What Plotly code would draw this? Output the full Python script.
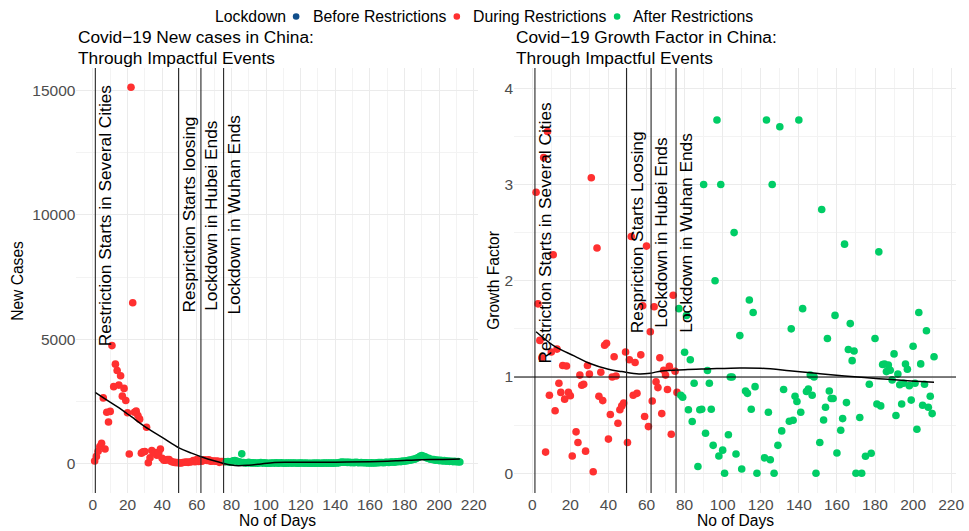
import plotly.graph_objects as go

# ---------------- data ----------------
RED = "#FF3030"     # During Restrictions
GREEN = "#00CD66"   # After Restrictions
BLUE = "#104E8B"    # Before Restrictions

# New cases, days 1..76 (During Restrictions)
new_cases_during = [95, 277, 486, 669, 802, 2632, 578, 2054, 1661, 2089,
                    4739, 3086, 3991, 3733, 3147, 3523, 2704, 3015, 2525, 2032,
                    373, 15136, 6463, 2055, 2100, 1921, 1777, 408, 458, 473,
                    1451, 21, 219, 513, 412, 434, 328, 428, 576, 204,
                    125, 125, 151, 153, 80, 53, 37, 27, 34, 11,
                    13, 32, 40, 46, 38, 52, 64, 110, 65, 150,
                    74, 108, 81, 138, 131, 117, 141, 87, 93, 95,
                    83, 92, 37, 69, 73, 61]
days_during = list(range(1, 1 + len(new_cases_during)))

# New cases, days 77..212 (After Restrictions)
new_cases_after = [62, 75, 48, 58, 96, 110, 92, 60, 52, 380, 27, 18, 12, 36, 15,
                   16, 15, 10, 6, 12, 30, 8, 20, 6, 2, 4, 9, 9, 8, 20,
                   5, 14, 20, 3, 6, 8, 7, 12, 8, 14, 12, 1, 5, 9, 14,
                   3, 10, 4, 1, 3, 2, 6, 2, 7, 3, 3, 6, 9, 5, 8,
                   8, 6, 5, 14, 10, 18, 38, 45, 40, 44, 36, 38, 28, 30, 26,
                   40, 28, 24, 30, 22, 20, 18, 14, 12, 16, 10, 14, 22, 25, 30,
                   30, 24, 38, 41, 33, 47, 52, 44, 58, 61, 73, 69, 88, 84, 102,
                   108, 126, 135, 158, 166, 205, 232, 286, 312, 281, 258, 214, 196, 163, 152,
                   146, 124, 131, 109, 118, 97, 106, 88, 94, 79, 85, 68, 77, 61, 66, 52]
days_after = list(range(77, 77 + len(new_cases_after)))

# Growth factor (During Restrictions)
gf_during_days = [2, 3, 4, 5, 6, 7, 8, 9, 10, 11, 12, 13, 14, 15, 16, 17, 18, 19, 20, 21,
                  23, 24, 25, 26, 27, 28, 29, 30, 31, 32, 34, 35, 36, 37, 38, 39, 40,
                  41, 42, 43, 44, 45, 46, 47, 48, 49, 50, 51, 52, 53, 54, 55,
                  57, 58, 59, 60, 61, 62, 63, 64, 65, 66, 67, 68, 69, 70,
                  71, 72, 73, 74, 75, 76]
gf_during = [2.92, 1.76, 1.38, 1.20, 3.28, 0.22, 3.55, 0.81, 1.26, 2.27, 0.65, 1.29, 0.935, 0.84,
             1.12, 0.77, 1.115, 0.84, 0.805, 0.18,
             0.43, 0.32, 1.02, 0.915, 0.925, 0.23, 1.12, 1.03, 3.07, 0.015, 2.34, 0.80, 1.05,
             0.755, 1.33, 1.35, 0.355,
             0.61, 1.0, 1.21, 1.01, 0.52, 0.66, 0.70, 0.73, 1.26, 0.32, 1.18, 2.46, 0.81, 1.15, 0.83,
             1.23, 1.74, 0.59, 2.36, 0.485, 1.47, 0.75, 1.73, 0.95, 0.89, 1.2, 0.62, 1.07, 1.02,
             0.87, 1.11, 0.405, 1.85, 1.06, 0.84]

# Growth factor (After Restrictions)
gf_after_days = [77, 78, 79, 80, 81, 82, 83, 84, 85, 87, 88, 89, 90, 91, 92, 93, 94, 95, 96, 97,
                 98, 99, 100, 101, 103, 104, 105, 106, 107, 109, 110, 112, 113, 114, 115, 116,
                 117, 118, 122, 123, 124, 125, 126, 127, 129, 130, 131, 132, 135, 136, 137,
                 138, 139, 140, 141, 142, 144, 145, 146, 147, 148, 149, 151, 152, 153, 154,
                 155, 156, 157, 158, 159, 160, 162, 163, 164, 165, 166, 167, 168, 169, 170,
                 172, 173, 175, 177, 178, 180, 181, 182, 183, 184, 185, 186, 187, 188, 189,
                 190, 191, 192, 193, 194, 195, 196, 197, 198, 199, 200, 201, 202, 203, 204,
                 205, 206, 207, 208, 209, 210, 211]
gf_after = [1.71, 0.81, 0.79, 1.257, 1.64, 0.66, 1.18, 0.537, 0.935, 0.07, 0.66, 0.665, 3.0, 0.415,
            1.067, 0.935, 0.665, 0.29, 2.0, 3.67,
            0.18, 3.0, 0.24, 0.0, 0.40, 1.0, 1.0, 2.50, 0.20, 1.43, 0.045, 0.855, 0.83, 1.80, 0.665,
            1.67,
            0.90, 0.0, 0.16, 3.67, 0.634, 0.14, 3.0, 0.0, 0.29, 3.60, 0.44, 0.87, 0.54, 1.50, 0.55,
            0.80, 0.745, 3.67, 0.634, 1.71, 0.85, 0.876, 1.02, 0.81, 1.0, 0.0, 0.32, 2.74, 0.554,
            0.686,
            1.40, 0.855, 0.776, 0.776, 1.64, 0.21, 0.447, 0.568, 2.38, 0.734, 1.285, 1.555, 1.17,
            1.27, 0.0,
            0.58, 0.0, 0.177, 0.925, 0.208, 1.40, 0.72, 2.30, 0.70, 1.13, 1.135, 1.056, 1.125,
            1.07, 0.97,
            1.24, 0.60, 1.03, 0.92, 0.72, 0.935, 1.135, 1.08, 0.91, 0.76, 1.32, 0.935, 0.457, 1.67,
            1.136,
            0.706, 0.925, 1.48, 0.686, 0.80, 0.62, 1.21]

# Smoothed trend lines
nc_smooth_days = [1.3, 7, 14, 22, 30, 40, 50, 57, 63, 70, 75, 80, 84, 90, 96, 105, 120, 140,
                  160, 175, 190, 200, 212]
nc_smooth_vals = [2858, 2595, 2280, 1885, 1480, 1045, 610, 410, 255, 100, 5, -70, -97, -75, -35,
                  35, 40, 42, 65, 100, 145, 150, 170]
gf_smooth_days = [2, 12, 22, 30, 40, 47, 56, 62, 68, 80, 92, 109, 120, 135, 149, 164, 182, 199,
                  211]
gf_smooth_vals = [1.47, 1.315, 1.22, 1.143, 1.08, 1.056, 1.032, 1.04, 1.063, 1.076, 1.084, 1.094,
                  1.091, 1.066, 1.039, 1.011, 0.983, 0.959, 0.945]

# Events
event_days = [1.4, 49.5, 62.4, 75.5]
event_labels_left = ["Restriction Starts in Several Cities", "Respriction Starts loosing",
                     "Lockdown in Hubei Ends", "Lockdown in Wuhan Ends"]
event_labels_right = ["Restriction Starts in Several Cities", "Respriction Starts Loosing",
                      "Lockdown in Hubei Ends", "Lockdown in Wuhan Ends"]
event_y_left = 10000
event_y_right = 2.5

legend_title = "Lockdown"
legend_labels = ["Before Restrictions", "During Restrictions", "After Restrictions"]
legend_colors = [BLUE, RED, GREEN]

# ---------------- layout helpers ----------------
W, H = 969, 531
FONT = "Liberation Sans, Arial, Helvetica, sans-serif"


def px(x):
    return x / W


def py(y):
    return 1 - y / H


L_DOM = [px(77.1), px(482.6)]
R_DOM = [px(518.9), px(965.0)]
Y_DOM = [py(493), py(68)]

fig = go.Figure()

MS = 7.6
fig.add_trace(go.Scatter(x=days_during, y=new_cases_during, mode="markers",
                         marker=dict(color=RED, size=MS), xaxis="x", yaxis="y", showlegend=False))
fig.add_trace(go.Scatter(x=days_after, y=new_cases_after, mode="markers",
                         marker=dict(color=GREEN, size=MS), xaxis="x", yaxis="y", showlegend=False))
fig.add_trace(go.Scatter(x=nc_smooth_days, y=nc_smooth_vals, mode="lines",
                         line=dict(color="black", width=1.5, shape="spline", smoothing=1.0),
                         xaxis="x", yaxis="y", showlegend=False))

fig.add_trace(go.Scatter(x=gf_during_days, y=gf_during, mode="markers",
                         marker=dict(color=RED, size=MS), xaxis="x2", yaxis="y2", showlegend=False))
fig.add_trace(go.Scatter(x=gf_after_days, y=gf_after, mode="markers",
                         marker=dict(color=GREEN, size=MS), xaxis="x2", yaxis="y2", showlegend=False))
fig.add_trace(go.Scatter(x=gf_smooth_days, y=gf_smooth_vals, mode="lines",
                         line=dict(color="black", width=1.5, shape="spline", smoothing=1.0),
                         xaxis="x2", yaxis="y2", showlegend=False))

GRID = "#EBEBEB"
MINOR = "#F3F3F3"
TICKFONT = dict(family=FONT, size=15.5, color="#4D4D4D")


def xaxis_cfg(domain, anchor):
    return dict(domain=domain, anchor=anchor, range=[-9.55, 222.55], tick0=0, dtick=20,
                showgrid=True, gridcolor=GRID, gridwidth=1.1, zeroline=False, showline=False,
                ticks="", tickfont=TICKFONT,
                minor=dict(dtick=10, tick0=0, showgrid=True, gridcolor=MINOR, gridwidth=0.6))


fig.update_layout(
    xaxis=xaxis_cfg(L_DOM, "y"),
    yaxis=dict(domain=Y_DOM, anchor="x", range=[-1196, 15914], tick0=0, dtick=5000,
               tickformat="d", showgrid=True, gridcolor=GRID, gridwidth=1.1, zeroline=False,
               showline=False, ticks="", tickfont=TICKFONT,
               minor=dict(dtick=2500, tick0=0, showgrid=True, gridcolor=MINOR, gridwidth=0.6)),
    xaxis2=xaxis_cfg(R_DOM, "y2"),
    yaxis2=dict(domain=Y_DOM, anchor="x2", range=[-0.205, 4.21], tick0=0, dtick=1,
                showgrid=True, gridcolor=GRID, gridwidth=1.1, zeroline=False, showline=False,
                ticks="", tickfont=TICKFONT,
                minor=dict(dtick=0.5, tick0=0, showgrid=True, gridcolor=MINOR, gridwidth=0.6)),
)

shapes = []
annotations = []
for d in event_days:
    for xr, yr in (("x", "y domain"), ("x2", "y2 domain")):
        shapes.append(dict(type="line", xref=xr, yref=yr, x0=d, x1=d, y0=0, y1=1,
                           line=dict(color="#262626", width=1.1)))
shapes.append(dict(type="line", xref="x2 domain", yref="y2", x0=0, x1=1, y0=1, y1=1,
                   line=dict(color="black", width=1.1)))

EVFONT = dict(family=FONT, size=17.3, color="black")
for d, lab in zip(event_days, event_labels_left):
    annotations.append(dict(x=d, y=event_y_left, xref="x", yref="y", text=lab, textangle=-90,
                            xanchor="left", yanchor="middle", showarrow=False, font=EVFONT,
                            borderpad=0, xshift=-1))
for d, lab in zip(event_days, event_labels_right):
    annotations.append(dict(x=d, y=event_y_right, xref="x2", yref="y2", text=lab, textangle=-90,
                            xanchor="left", yanchor="middle", showarrow=False, font=EVFONT,
                            borderpad=0, xshift=-1))

# titles
TFONT = dict(family=FONT, size=17.3, color="black")
for x0, l1 in ((76.5, "Covid\u221219 New cases in China:"),
               (518.5, "Covid\u221219 Growth Factor in China:")):
    annotations.append(dict(x=px(x0), y=py(37.5), xref="paper", yref="paper", text=l1,
                            xanchor="left", yanchor="middle", showarrow=False, font=TFONT))
    annotations.append(dict(x=px(x0), y=py(57.5), xref="paper", yref="paper",
                            text="Through Impactful Events", xanchor="left", yanchor="middle",
                            showarrow=False, font=TFONT))

# axis titles
AFONT = dict(family=FONT, size=15.6, color="black")
annotations.append(dict(x=px(279.9), y=py(520), xref="paper", yref="paper", text="No of Days",
                        showarrow=False, font=AFONT, xanchor="center", yanchor="middle"))
annotations.append(dict(x=px(742), y=py(520), xref="paper", yref="paper", text="No of Days",
                        showarrow=False, font=AFONT, xanchor="center", yanchor="middle"))
annotations.append(dict(x=px(17.5), y=py(280.5), xref="paper", yref="paper", text="New Cases",
                        textangle=-90, showarrow=False, font=AFONT, xanchor="center",
                        yanchor="middle"))
annotations.append(dict(x=px(498), y=py(280.5), xref="paper", yref="paper", text="Growth Factor",
                        textangle=-90, showarrow=False, font=AFONT, xanchor="center",
                        yanchor="middle"))

# legend (drawn manually)
LFONT = dict(family=FONT, size=15.8, color="black")
LY = 16.5
annotations.append(dict(x=px(214.5), y=py(LY), xref="paper", yref="paper", text=legend_title,
                        xanchor="left", yanchor="middle", showarrow=False, font=LFONT))
dot_x = [298.9, 461.1, 622.9]
txt_x = [314.0, 475.2, 637.0]
for dx, tx, lab, col in zip(dot_x, txt_x, legend_labels, legend_colors):
    shapes.append(dict(type="circle", xref="paper", yref="paper", xsizemode="pixel",
                       ysizemode="pixel", xanchor=px(dx), yanchor=py(LY), x0=-3.3, x1=3.3,
                       y0=-3.3, y1=3.3, fillcolor=col, line=dict(width=0)))
    annotations.append(dict(x=px(tx), y=py(LY), xref="paper", yref="paper", text=lab,
                            xanchor="left", yanchor="middle", showarrow=False, font=LFONT))

fig.update_layout(shapes=shapes, annotations=annotations, width=W, height=H, autosize=False,
                  margin=dict(l=0, r=0, t=0, b=0), paper_bgcolor="white", plot_bgcolor="white",
                  showlegend=False, font=dict(family=FONT))

fig.write_html("out.html")
